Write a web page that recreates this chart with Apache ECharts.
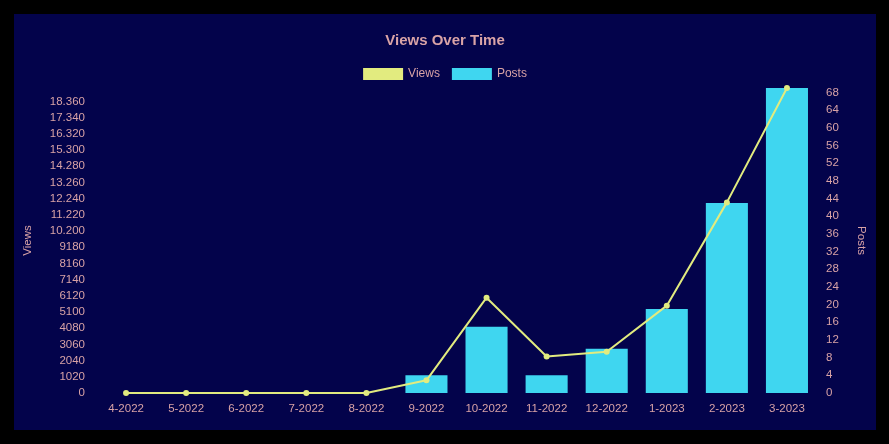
<!DOCTYPE html>
<html>
<head>
<meta charset="utf-8">
<script src="https://cdn.jsdelivr.net/npm/echarts@6/dist/echarts.min.js"></script>
<style>
html,body{margin:0;padding:0;background:#000;width:889px;height:444px;overflow:hidden;}
#c{position:absolute;left:14px;top:14px;width:862px;height:416px;background:#03034b;}
</style>
</head>
<body>
<div id="c"></div>
<script>
const categories = ["4-2022","5-2022","6-2022","7-2022","8-2022","9-2022","10-2022","11-2022","12-2022","1-2023","2-2023","3-2023"];
const views = [0,0,0,0,0,800,6000,2300,2600,5500,12000,19200];
const posts = [0,0,0,0,0,4,15,4,10,19,43,69];

const textCol = "#d9a3a6";
const fmtViews = v => v >= 10000 ? String(v).replace(/\B(?=(\d{3})+(?!\d))/g, ".") : String(v);

const chart = echarts.init(document.getElementById('c'));
chart.setOption({
  backgroundColor: "#03034b",
  animation: false,
  title: {
    text: "Views Over Time",
    left: "center",
    top: 14,
    textStyle: {color: textCol, fontSize: 15, fontWeight: "bold", fontFamily: "Liberation Sans"}
  },
  legend: {
    top: 49,
    left: "center",
    itemWidth: 40,
    itemHeight: 12,
    itemGap: 12,
    textStyle: {color: textCol, fontSize: 12, fontFamily: "Liberation Sans"},
    data: [
      {name: "Views", icon: "rect", itemStyle: {color: "#e2eb7f"}},
      {name: "Posts", icon: "rect", itemStyle: {color: "#3fd6f0"}}
    ]
  },
  grid: {left: 81, right: 59, top: 74, bottom: 37},
  xAxis: {
    type: "category",
    data: categories,
    axisLine: {show: false},
    axisTick: {show: false},
    axisLabel: {color: textCol, fontSize: 11.5, fontFamily: "Liberation Sans", margin: 10}
  },
  yAxis: [
    {
      type: "value",
      name: "Views",
      nameLocation: "middle",
      nameGap: 62,
      nameRotate: 90,
      nameTextStyle: {color: textCol, fontSize: 11.5, fontFamily: "Liberation Sans"},
      min: 0, max: 19200, interval: 1020,
      splitLine: {show: false},
      axisLine: {show: false},
      axisTick: {show: false},
      axisLabel: {color: textCol, fontSize: 11.5, fontFamily: "Liberation Sans", margin: 11, showMaxLabel: false, formatter: fmtViews}
    },
    {
      type: "value",
      name: "Posts",
      nameLocation: "middle",
      nameGap: 38,
      nameRotate: -90,
      nameTextStyle: {color: textCol, fontSize: 11.5, fontFamily: "Liberation Sans"},
      min: 0, max: 69, interval: 4,
      splitLine: {show: false},
      axisLine: {show: false},
      axisTick: {show: false},
      axisLabel: {color: textCol, fontSize: 11.5, fontFamily: "Liberation Sans", margin: 9, showMaxLabel: false}
    }
  ],
  series: [
    {
      name: "Views",
      type: "line",
      yAxisIndex: 0,
      data: views,
      z: 5,
      symbol: "circle",
      symbolSize: 6,
      lineStyle: {color: "#e2eb7f", width: 2},
      itemStyle: {color: "#e2eb7f"}
    },
    {
      name: "Posts",
      type: "bar",
      yAxisIndex: 1,
      data: posts,
      barWidth: "70%",
      itemStyle: {color: "#3fd6f0"}
    }
  ]
});
</script>
</body>
</html>
